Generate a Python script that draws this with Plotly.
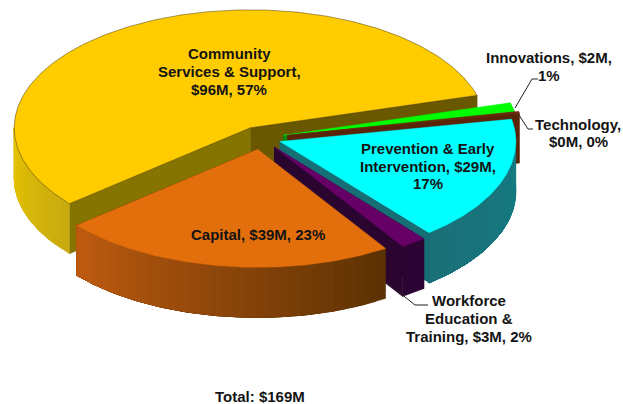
import math
import plotly.graph_objects as go

# Funding by component, in $M, clockwise from the Community slice
categories = ["Community Services & Support", "Innovations", "Technology",
              "Prevention & Early Intervention", "Workforce Education & Training", "Capital"]
values = [96, 2, 0.4, 29, 3, 39]
labels = ["Community<br>Services & Support,<br>$96M, 57%", "Innovations, $2M,<br>1%",
          "Technology,<br>$0M, 0%", "Prevention & Early<br>Intervention, $29M,<br>17%",
          "Workforce<br>Education &<br>Training, $3M, 2%", "Capital, $39M, 23%"]
total_label = "Total: $169M"

top_colors = ["#ffcc00", "#00ff00", "#6e2a0c", "#00ffff", "#660066", "#e36f0c"]
# Wall shading, left colour then right colour
wall_colors = [("#e8c400", "#c9ab10"), ("#0a8a0a", "#0a8a0a"), ("#5a2408", "#5a2408"),
               ("#137f85", "#1b6f78"), ("#2c0434", "#2a0330"), ("#bd5a10", "#5c3204")]
cut_colors = ["#857400", "#0a8a0a", "#5a2408", "#176f76", "#2a0530", "#5c3204"]
back_cut_color = "#6a5800"

# Projection of the tilted disc onto the page
CX, CY, RX, RY, DEPTH = 261, 138, 236, 118, 50
START_ANGLE = 220
explode = [23, 23, 27, 20, 23, 23]
label_xy = [(229, 71.5), (549, 66.5), (578, 133), (428, 166), (469, 318.5), (258, 234)]
LINE_GAP = 17.7
FONT = "Liberation Sans, Arial, sans-serif"


def to_page(angle, radius_x=RX, radius_y=RY, ox=0, oy=0, drop=0):
    t = math.radians(angle)
    return ox + radius_x * math.cos(t), oy - radius_y * math.sin(t) + drop


def mix(a, b, f):
    pa = [int(a[i:i + 2], 16) for i in (1, 3, 5)]
    pb = [int(b[i:i + 2], 16) for i in (1, 3, 5)]
    return "#%02x%02x%02x" % tuple(round(p + (q - p) * f) for p, q in zip(pa, pb))


fig = go.Figure()


def poly(points, fill, line=None, width=0.6):
    xs = [p[0] for p in points] + [points[0][0]]
    ys = [p[1] for p in points] + [points[0][1]]
    fig.add_trace(go.Scatter(x=xs, y=ys, mode="lines", fill="toself", fillcolor=fill,
                             line=dict(color=line or fill, width=width),
                             hoverinfo="skip", showlegend=False))


def arc(a0, a1, ox, oy, drop=0, step=0.75):
    n = max(2, int(abs(a1 - a0) / step) + 1)
    return [to_page(a0 + (a1 - a0) * i / (n - 1), ox=ox, oy=oy, drop=drop) for i in range(n)]


total = sum(values)
angle = START_ANGLE
for i, value in enumerate(values):
    span = value / total * 360
    a0, a1 = angle, angle - span            # clockwise sweep
    angle = a1
    mid = (a0 + a1) / 2
    ox, oy = to_page(mid, explode[i], explode[i] / 2, CX, CY)

    # Flat cut faces that turn towards the viewer
    rim1 = to_page(a1, ox=ox, oy=oy)
    poly([(ox, oy), rim1, (rim1[0], rim1[1] + DEPTH), (ox, oy + DEPTH)],
         back_cut_color if i == 0 else cut_colors[i])
    if i == 0 or i == 4:
        rim0 = to_page(a0, ox=ox, oy=oy)
        poly([(ox, oy), rim0, (rim0[0], rim0[1] + DEPTH), (ox, oy + DEPTH)], cut_colors[i])

    # Outer wall: each shade runs to the far end and the next one paints over it,
    # which leaves no seams between the steps of the gradient
    wall_start = a0 if i != 0 else 220
    wall_end = a1 if i != 0 else 180
    strips = 30 if i in (3, 5) else 14 if i == 0 else 1
    left, right = wall_colors[i]
    for s in range(strips):
        b0 = wall_start + (wall_end - wall_start) * s / strips
        f = s / max(1, strips - 1)
        # Capital and Community sweep right to left along the front of the disc
        shade = mix(right, left, f) if i in (0, 5) else mix(left, right, f)
        poly(arc(b0, wall_end, ox, oy) + arc(wall_end, b0, ox, oy, DEPTH), shade, width=0.3)

    # Top face
    poly([(ox, oy)] + arc(a0, a1, ox, oy), top_colors[i],
         line="#4a3a00" if i == 0 else None, width=0.5 if i == 0 else 0.4)

# Leader lines from the small slices to their labels
leaders = [[(515, 108), (532, 79), (538, 79)],
           [(519, 115), (528, 129), (533, 129)],
           [(390, 285), (415, 305), (428, 305)]]
for path in leaders:
    fig.add_trace(go.Scatter(x=[p[0] for p in path], y=[p[1] for p in path], mode="lines",
                             line=dict(color="#222222", width=1),
                             hoverinfo="skip", showlegend=False))

# Labels, one annotation per line so the line spacing stays tight
font = dict(family=FONT, size=15, color="#141414")
for text, (x, y) in zip(labels, label_xy):
    rows = text.split("<br>")
    for r, row in enumerate(rows):
        fig.add_annotation(x=x, y=y + (r - (len(rows) - 1) / 2) * LINE_GAP,
                           text="<b>%s</b>" % row, showarrow=False, font=font,
                           xanchor="center", yanchor="middle", align="center")
fig.add_annotation(x=260, y=396, text="<b>%s</b>" % total_label, showarrow=False,
                   font=font, xanchor="center", yanchor="middle")

fig.update_layout(width=623, height=404, margin=dict(l=0, r=0, t=0, b=0),
                  paper_bgcolor="white", plot_bgcolor="white", showlegend=False,
                  xaxis=dict(range=[0, 623], visible=False, fixedrange=True),
                  yaxis=dict(range=[404, 0], visible=False, fixedrange=True))
fig.write_html("out.html", config=dict(displayModeBar=False))
